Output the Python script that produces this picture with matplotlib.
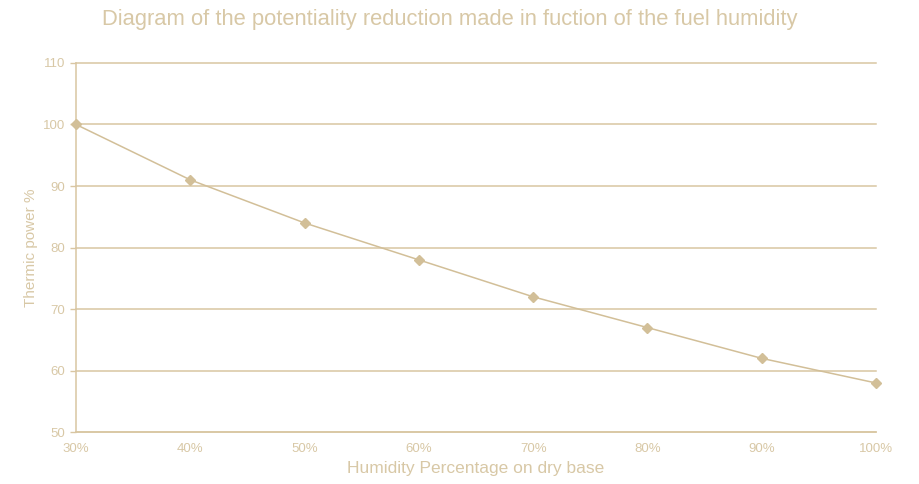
import matplotlib.pyplot as plt

# Humidity on dry base (%) and resulting thermic power (%)
humidity = [30, 40, 50, 60, 70, 80, 90, 100]
power = [100, 91, 84, 78, 72, 67, 62, 58]
x_labels = [f'{h}%' for h in humidity]
y_ticks = [50, 60, 70, 80, 90, 100, 110]

line_color = '#D2BF98'
text_color = '#D8C8A6'
grid_color = '#D9C6A2'

plt.rcParams['font.family'] = ['Liberation Sans', 'DejaVu Sans']

fig = plt.figure(figsize=(9.19, 4.84), dpi=100)
ax = fig.add_axes([0.0827, 0.107, 0.8705, 0.763])

ax.plot(humidity, power, color=line_color, linewidth=1.1,
        marker='D', markersize=5, markerfacecolor=line_color,
        markeredgecolor=line_color, zorder=3, clip_on=False)

ax.set_xlim(30, 100)
ax.set_ylim(50, 110)
ax.set_xticks(humidity)
ax.set_xticklabels(x_labels)
ax.set_yticks(y_ticks)

# Horizontal gridlines only
ax.yaxis.grid(True, color=grid_color, linewidth=1.1)
for gl in ax.get_ygridlines():
    gl.set_clip_on(False)
ax.set_axisbelow(True)

for side in ['top', 'right']:
    ax.spines[side].set_visible(False)
for side in ['left', 'bottom']:
    ax.spines[side].set_color(grid_color)
    ax.spines[side].set_linewidth(1.1)

ax.tick_params(axis='y', colors=text_color, labelsize=9.5, length=4,
               width=1, pad=4)
ax.tick_params(axis='x', colors=text_color, labelsize=9.5, length=0, pad=8)
ax.tick_params(axis='y', color=grid_color)

ax.set_xlabel('Humidity Percentage on dry base', color=text_color,
              fontsize=12.5, labelpad=4)
ax.set_ylabel('Thermic power %', color=text_color, fontsize=11, labelpad=3)

fig.text(0.489, 0.96, 'Diagram of the potentiality reduction made in fuction of the fuel humidity',
         color=text_color, fontsize=15.8, ha='center', va='center')

plt.savefig('out.png', dpi=100)
